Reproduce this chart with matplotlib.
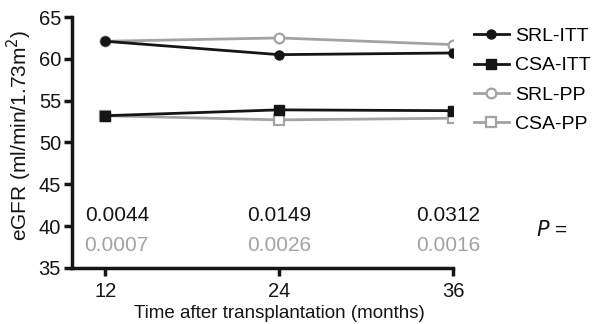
import matplotlib.pyplot as plt

plt.rcParams['font.family'] = ['Liberation Sans', 'DejaVu Sans']

months = [12, 24, 36]
srl_itt = [62.1, 60.5, 60.7]
csa_itt = [53.2, 53.9, 53.8]
srl_pp = [62.1, 62.5, 61.7]
csa_pp = [53.2, 52.7, 52.9]
p_itt = ['0.0044', '0.0149', '0.0312']
p_pp = ['0.0007', '0.0026', '0.0016']

black = '#151515'
grey = '#a3a3a3'

fig = plt.figure(figsize=(5.96, 3.24), dpi=100)
ax = fig.add_axes([0.121, 0.173, 0.639, 0.7745])

ax.plot(months, srl_pp, color=grey, lw=2, marker='o', ms=7, mfc='white', mec=grey, mew=1.6, label='SRL-PP', zorder=2)
ax.plot(months, csa_pp, color=grey, lw=2, marker='s', ms=7, mfc='white', mec=grey, mew=1.6, label='CSA-PP', zorder=2)
ax.plot(months, srl_itt, color=black, lw=2, marker='o', ms=6.5, mfc=black, mec=black, label='SRL-ITT', zorder=3)
ax.plot(months, csa_itt, color=black, lw=2, marker='s', ms=6.5, mfc=black, mec=black, label='CSA-ITT', zorder=3)

# p-value labels sit a bit off the ticks in the original
text_x = [12.8, 24, 35.7]
fs = 15
for x, a, b in zip(text_x, p_itt, p_pp):
    ax.text(x, 41.3, a, color=black, fontsize=fs, ha='center', va='center')
    ax.text(x, 37.7, b, color=grey, fontsize=fs, ha='center', va='center')
fig.text(0.9, 0.29, '$P$ =', fontsize=fs, ha='left', va='center', color=black)

ax.set_xlim(9.72, 36)
ax.set_ylim(35, 65)
ax.set_xticks(months)
ax.set_yticks(range(35, 66, 5))
for s in ['top', 'right']:
    ax.spines[s].set_visible(False)
for s in ['left', 'bottom']:
    ax.spines[s].set_linewidth(2.5)
    ax.spines[s].set_color(black)
ax.spines['bottom'].set_bounds(9.72, 36)
ax.tick_params(width=2.5, length=6, color=black, labelsize=14.5, labelcolor=black, pad=2)
ax.tick_params(axis='x', pad=4)
ax.set_xlabel('Time after transplantation (months)', fontsize=13.5, labelpad=3, color=black)
ax.xaxis.label.set_x(0.543)
ax.set_ylabel('eGFR (ml/min/1.73m$^2$)', fontsize=15, labelpad=3, color=black)
ax.yaxis.label.set_y(0.53)

h, l = ax.get_legend_handles_labels()
order = [2, 3, 0, 1]
fig.legend([h[i] for i in order], [l[i] for i in order], loc='upper left',
           bbox_to_anchor=(0.795, 0.915), frameon=False, fontsize=14,
           handlelength=1.8, handletextpad=0.3, labelspacing=0.6, borderaxespad=0,
           borderpad=0)

fig.savefig('out.png', dpi=100)
